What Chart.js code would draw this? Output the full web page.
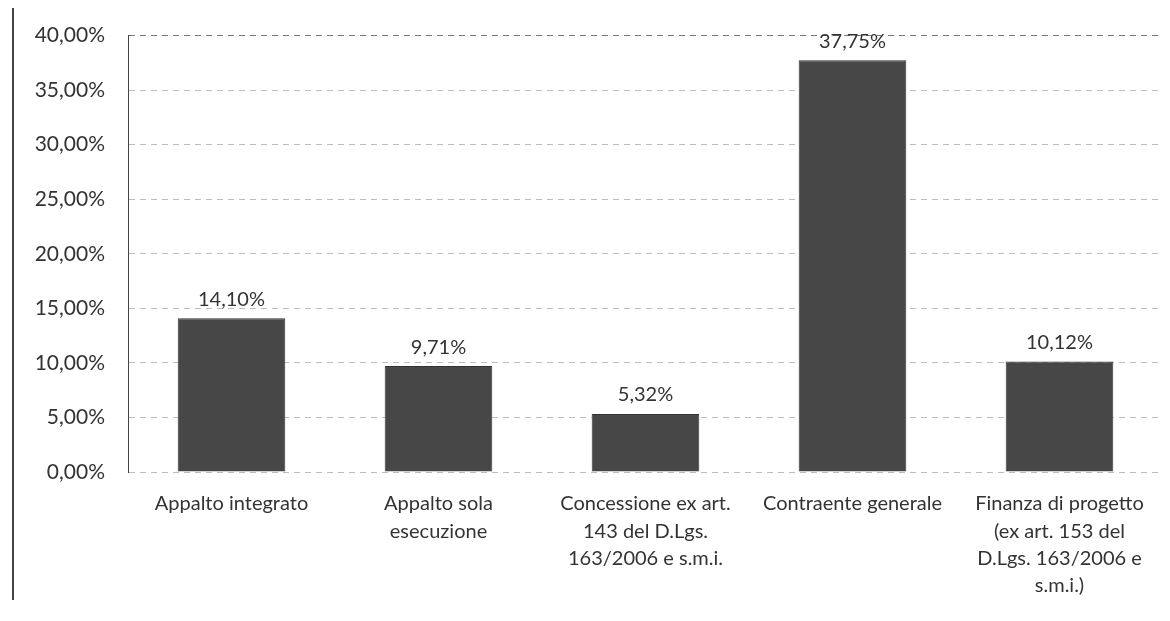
<!DOCTYPE html>
<html>
<head>
<meta charset="utf-8">
<script src="https://cdn.jsdelivr.net/npm/chart.js@4"></script>
<style>
html,body{margin:0;padding:0;background:#fff;}
#wrap{width:1170px;height:621px;position:relative;}
</style>
</head>
<body>
<div id="wrap"><canvas id="c" width="1170" height="621"></canvas></div>
<script>
const categories = [
  "Appalto integrato",
  ["Appalto sola", "esecuzione"],
  ["Concessione ex art.", "143 del D.Lgs.", "163/2006 e s.m.i."],
  "Contraente generale",
  ["Finanza di progetto", "(ex art. 153 del", "D.Lgs. 163/2006 e", "s.m.i.)"]
];
const values = [14.10, 9.71, 5.32, 37.75, 10.12];
const yMin = 0, yMax = 40, yStep = 5;

function fmtPct(v){ return v.toFixed(2).replace('.', ',') + '%'; }

const FONT = "Lato, 'Open Sans', sans-serif";

const labelPlugin = {
  id: 'valLabels',
  afterDatasetsDraw(chart){
    const ctx = chart.ctx;
    const meta = chart.getDatasetMeta(0);
    ctx.save();
    ctx.font = "20px " + FONT;
    ctx.fillStyle = '#333';
    ctx.textAlign = 'center';
    ctx.textBaseline = 'bottom';
    meta.data.forEach((bar, i) => {
      ctx.fillText(fmtPct(values[i]), bar.x, bar.y - 9);
    });
    ctx.restore();
  },
  beforeDraw(chart){
    const ctx = chart.ctx;
    ctx.save();
    ctx.fillStyle = '#fff';
    ctx.fillRect(0,0,chart.width,chart.height);
    ctx.strokeStyle = '#444';
    ctx.lineWidth = 2;
    ctx.beginPath();
    ctx.moveTo(13, 8);
    ctx.lineTo(13, 600);
    ctx.stroke();
    ctx.restore();
  }
};

new Chart(document.getElementById('c'), {
  type: 'bar',
  data: {
    labels: categories,
    datasets: [{
      data: values,
      backgroundColor: '#474747',
      borderColor: '#333',
      borderWidth: 1,
      categoryPercentage: 1.0,
      barPercentage: 0.52
    }]
  },
  options: {
    responsive: false,
    animation: false,
    layout: { padding: { top: 28, right: 7, left: 0, bottom: 0 } },
    plugins: { legend: { display: false }, tooltip: { enabled: false } },
    scales: {
      y: {
        min: yMin, max: yMax,
        ticks: {
          stepSize: yStep,
          color: '#333',
          font: { size: 21, family: FONT },
          padding: 23,
          callback: v => fmtPct(v)
        },
        grid: {
          color: ctx => ctx.tick && ctx.tick.value === yMax ? '#777' : '#bdbdbd',
          lineWidth: 1,
          drawTicks: false
        },
        border: { display: true, color: '#444', width: 1, dash: [6, 5] },
        afterFit(scale){ scale.width = 128; }
      },
      x: {
        ticks: {
          color: '#333',
          font: { size: 20, family: FONT, lineHeight: 1.37 },
          padding: 18,
          maxRotation: 0,
          autoSkip: false
        },
        grid: { display: false, drawTicks: false },
        border: { display: false },
        afterFit(scale){ scale.height = 149; }
      }
    }
  },
  plugins: [labelPlugin]
});
</script>
</body>
</html>
